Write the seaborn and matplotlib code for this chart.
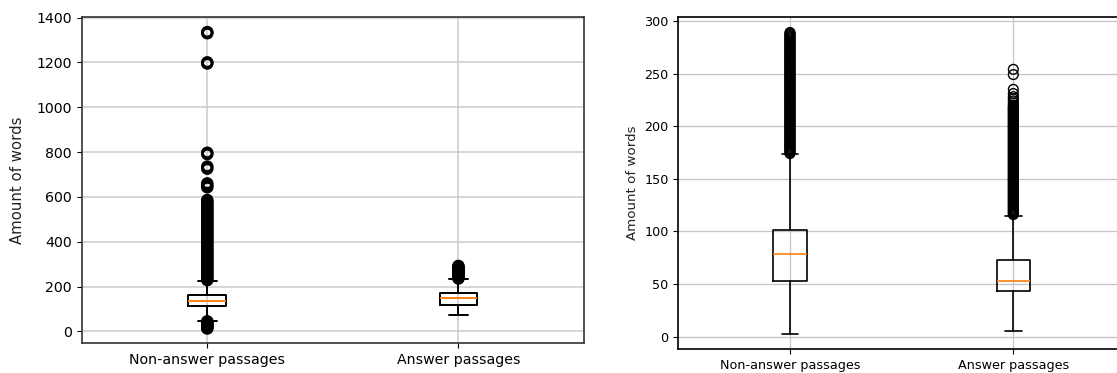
import matplotlib
matplotlib.use("Agg")
import matplotlib.pyplot as plt
import seaborn as sns
import pandas as pd

# ---------------- data ----------------
categories = ["Non-answer passages", "Answer passages"]

# Left panel (all passages) five-number summaries: whislo, q1, median, q3, whishi
left_whislo = [47, 74]
left_q1 = [114, 119]
left_med = [136, 147]
left_q3 = [163, 171]
left_whishi = [227, 234]

left_out_nonanswer = [13, 17, 21, 25, 29, 33, 37, 41, 45,
                      229, 236, 243, 250, 257, 264, 271, 278, 285, 292,
                      299, 306, 313, 320, 327, 334, 341, 348, 355, 362,
                      369, 376, 383, 390, 397, 404, 411, 418, 425, 432,
                      439, 446, 453, 460, 467, 474, 481, 488, 495, 502,
                      509, 516, 523, 530, 537, 544, 551, 558, 565, 572, 580, 586,
                      643, 652, 660, 726, 735, 791, 797, 1195, 1200, 1330, 1335]
left_out_answer = [236, 240, 244, 248, 252, 256, 260, 264, 268, 272,
                   276, 280, 284, 288, 292]

# Right panel (filtered passages)
right_whislo = [2.5, 5.7]
right_q1 = [53, 43.4]
right_med = [78.5, 52.6]
right_q3 = [101.3, 72.5]
right_whishi = [173.7, 114.9]

right_out_nonanswer = [
    174, 175, 176, 177, 178, 179, 180, 181, 182, 183, 184, 185, 186, 187, 188, 189, 190, 191, 192, 193,
    194, 195, 196, 197, 198, 199, 200, 201, 202, 203, 204, 205, 206, 207, 208, 209, 210, 211, 212, 213,
    214, 215, 216, 217, 218, 219, 220, 221, 222, 223, 224, 225, 226, 227, 228, 229, 230, 231, 232, 233,
    234, 235, 236, 237, 238, 239, 240, 241, 242, 243, 244, 245, 246, 247, 248, 249, 250, 251, 252, 253,
    254, 255, 256, 257, 258, 259, 260, 261, 262, 263, 264, 265, 266, 267, 268, 269, 270, 271, 272, 273,
    274, 275, 276, 277, 278, 279, 280, 281, 282, 283, 284, 285, 286, 287, 288, 289]
right_out_answer = [
    116, 117, 118, 119, 120, 121, 122, 123, 124, 125, 126, 127, 128, 129, 130, 131, 132, 133, 134, 135,
    136, 137, 138, 139, 140, 141, 142, 143, 144, 145, 146, 147, 148, 149, 150, 151, 152, 153, 154, 155,
    156, 157, 158, 159, 160, 161, 162, 163, 164, 165, 166, 167, 168, 169, 170, 171, 172, 173, 174, 175,
    176, 177, 178, 179, 180, 181, 182, 183, 184, 185, 186, 187, 188, 189, 190, 191, 192, 193, 194, 195,
    196, 197, 198, 199, 200, 201, 202, 203, 204, 205, 206, 207, 208, 209, 210, 211, 212, 213, 214, 215,
    216, 217, 218, 219, 220, 222, 224, 226, 228, 231, 235, 249, 254]

y_label = "Amount of words"

# ---------------- style ----------------
sns.set_style("whitegrid", rc={
    "axes.edgecolor": "black",
    "grid.color": "#c4c4c4",
    "xtick.bottom": True,
    "ytick.left": True,
    "xtick.color": "black",
    "ytick.color": "black",
    "xtick.major.size": 3.5,
    "ytick.major.size": 3.5,
    "axes.labelcolor": "#222222",
    "text.color": "#222222",
})
plt.rcParams["font.family"] = ["DejaVu Sans"]

W, H = 1117, 373
fig = plt.figure(figsize=(W / 100, H / 100), dpi=100)


def px_axes(left, top, right, bottom):
    return fig.add_axes([left / W, (H - bottom) / H, (right - left) / W, (bottom - top) / H])


def draw_panel(ax, whislo, q1, med, q3, whishi, outs, ylim, yticks,
               fs, lw, ms, mew, frame_color, grid_color, grid_lw, labelpad):
    stats = []
    for i in range(len(categories)):
        stats.append(dict(whislo=whislo[i], q1=q1[i], med=med[i], q3=q3[i],
                          whishi=whishi[i], fliers=[], label=categories[i]))
    ax.bxp(stats, positions=[1, 2], widths=0.15, showfliers=False,
           boxprops=dict(color="black", linewidth=lw),
           whiskerprops=dict(color="black", linewidth=lw),
           capprops=dict(color="black", linewidth=lw),
           medianprops=dict(color="#ff7f0e", linewidth=lw))
    df = pd.DataFrame({
        "pos": [1] * len(outs[0]) + [2] * len(outs[1]),
        "val": list(outs[0]) + list(outs[1]),
    })
    sns.scatterplot(data=df, x="pos", y="val", ax=ax, marker="o",
                    s=ms ** 2, facecolor="none", edgecolor="black",
                    linewidth=mew, zorder=3, legend=False)
    ax.set_xlim(0.5, 2.5)
    ax.set_ylim(*ylim)
    ax.set_yticks(yticks)
    ax.set_xticks([1, 2])
    ax.set_xticklabels(categories, fontsize=fs)
    ax.tick_params(axis="y", labelsize=fs)
    ax.set_xlabel("")
    ax.set_ylabel(y_label, fontsize=fs * 1.05, labelpad=labelpad)
    ax.grid(True, color=grid_color, linewidth=grid_lw)
    for s in ax.spines.values():
        s.set_color(frame_color)
        s.set_linewidth(1.2)


ax1 = px_axes(81.7, 17.3, 584, 343.3)
draw_panel(ax1, left_whislo, left_q1, left_med, left_q3, left_whishi,
           [left_out_nonanswer, left_out_answer], (-53, 1401),
           [0, 200, 400, 600, 800, 1000, 1200, 1400],
           10.2, 1.4, 7, 2.0, "#333333", "#cccccc", 1.1, 8)

ax2 = px_axes(678.3, 16.7, 1125, 349.3)
draw_panel(ax2, right_whislo, right_q1, right_med, right_q3, right_whishi,
           [right_out_nonanswer, right_out_answer], (-12, 304),
           [0, 50, 100, 150, 200, 250, 300],
           9.2, 1.2, 7, 1.0, "black", "#c4c4c4", 0.9, 4)

fig.savefig("out.png", dpi=100)
